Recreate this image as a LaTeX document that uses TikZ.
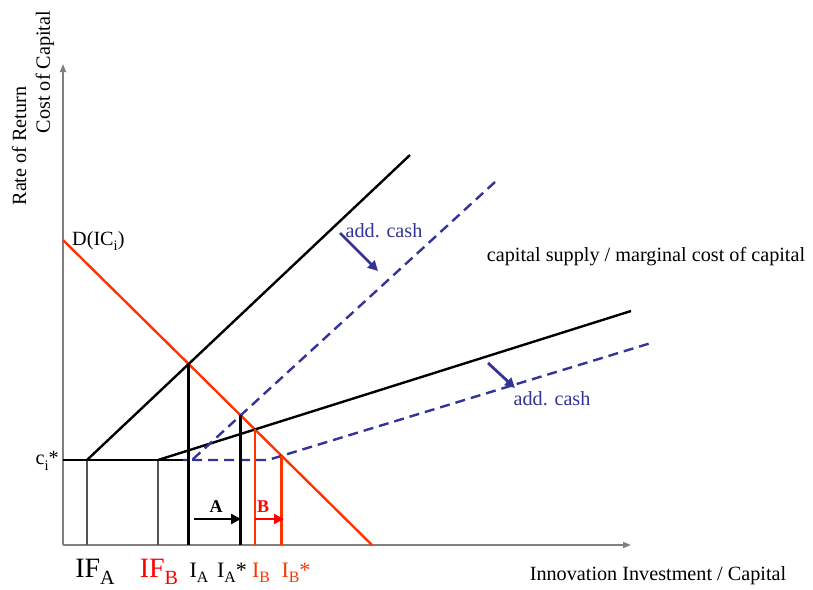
\documentclass[tikz,border=0pt]{standalone}
\usepackage{fontspec}
\setmainfont{Liberation Serif}
\usetikzlibrary{arrows.meta,intersections}
\definecolor{dred}{HTML}{FF3300}
\definecolor{pred}{HTML}{FF0000}
\definecolor{cblue}{HTML}{333399}
\definecolor{axgray}{HTML}{808080}
\definecolor{thingray}{HTML}{555555}
\newcommand\lowsb[1]{\raisebox{-0.26em}{\fontsize{0.72em}{0.85em}\selectfont #1}}
\begin{document}
\begin{tikzpicture}[x=1pt,y=-1pt,
  axisline/.style={draw=axgray,line width=1.6pt,-{Triangle[length=8pt,width=6pt]}},
  supplyline/.style={draw=black,line width=2.4pt},
  demandline/.style={draw=dred,line width=2.4pt},
  cashline/.style={draw=cblue,line width=2.4pt,dash pattern=on 10pt off 6pt},
  thickvert/.style={draw=black,line width=3.4pt},
  redvert/.style={draw=dred,line width=2.6pt},
  thinvert/.style={draw=thingray,line width=1.1pt},
  shiftarrow/.style={line width=2.8pt,-{Triangle[length=10pt,width=10pt]}},
  lbl/.style={font=\fontsize{20.2}{24}\selectfont,inner sep=0pt},
  ilbl/.style={font=\fontsize{22}{26}\selectfont,inner sep=0pt,anchor=base},
  iflbl/.style={font=\fontsize{28}{32}\selectfont,inner sep=0pt,anchor=base},
  bl/.style={font=\fontsize{18}{22}\selectfont\bfseries,inner sep=0pt}
]
\useasboundingbox (0,0) rectangle (813,589);

% axes
\coordinate (O) at (63,545);
\coordinate (Ytop) at (63,64);
\coordinate (Xend) at (631,545);
\draw[axisline] (O) -- (Ytop);
\draw[axisline] (O) -- (Xend);

% key points
\coordinate (C0) at (63,460);
\coordinate (FA) at (87,460);
\coordinate (FB) at (158,460);
\coordinate (Cend) at (183,460);
\coordinate (KA) at (192,460);
\coordinate (KB) at (268,460);

% thin verticals
\draw[thinvert] (FA) -- (FA |- O);
\draw[thinvert] (FB) -- (FB |- O);

% demand
\draw[demandline,name path=dem] (63,240) -- (372,545);

% supply curves
\draw[supplyline] (C0) -- (Cend);
\draw[supplyline,name path=sA] (FA) -- (410,155);
\draw[supplyline,name path=sB] (FB) -- (631,311);

% shifted supply curves (dashed)
\draw[cashline,name path=dA] (495,182) -- (KA) -- (Cend);
\draw[cashline,name path=dB] (KA) -- (KB) -- (651,343);

% intersections
\path[name intersections={of=dem and sA,by=PA}];
\path[name intersections={of=dem and dA,by=PAs}];
\path[name intersections={of=dem and sB,by=PB}];
\path[name intersections={of=dem and dB,by=PBs}];

\draw[thickvert] (PA) -- (PA |- O);
\draw[thickvert] (PAs) -- (PAs |- O);
\draw[redvert] (PB) -- (PB |- O);
\draw[redvert] (PBs) -- (PBs |- O);

% shift arrows A and B
\coordinate (A1) at (194,519);
\coordinate (A2) at (241,519);
\draw[shiftarrow,black] (A1) -- (A2);
\node[bl] (labA) at (216,507) {A};
\coordinate (B1) at (255,519);
\coordinate (B2) at (284,519);
\draw[shiftarrow,pred,line width=2.4pt] (B1) -- (B2);
\node[bl,text=pred] (labB) at (263,507) {B};

% add. cash arrows
\coordinate (c1s) at (340,233);
\coordinate (c1e) at (378,271);
\draw[shiftarrow,cblue] (c1s) -- (c1e);
\node[lbl,text=cblue] (cash1) at (384,231) {add. cash};
\coordinate (c2s) at (488,363);
\coordinate (c2e) at (515,388);
\draw[shiftarrow,cblue] (c2s) -- (c2e);
\node[lbl,text=cblue] (cash2) at (552,399) {add. cash};

% texts
\node[lbl] (supply) at (646,257) {capital supply / marginal cost of capital};
\node[lbl] (xlab) at (658,576) {Innovation Investment / Capital};
\node[lbl,rotate=90] (ylab1) at (19,146) {Rate of Return};
\node[lbl,rotate=90] (ylab2) at (45,72) {Cost of Capital};
\node[lbl,anchor=west] (dlab) at (72,241) {D(IC\lowsb{i})};
\node[lbl,anchor=east] (clab) at (59,461) {c\lowsb{i}*};

% bottom labels
\node[iflbl] (IFA) at (95,577) {IF\lowsb{A}};
\node[iflbl,text=pred] (IFB) at (159,577) {IF\lowsb{B}};
\node[ilbl] (IA) at (199,577) {I\lowsb{A}};
\node[ilbl] (IAs) at (232,577) {I\lowsb{A}*};
\node[ilbl,text=dred] (IB) at (261,577) {I\lowsb{B}};
\node[ilbl,text=dred] (IBs) at (296,577) {I\lowsb{B}*};
\end{tikzpicture}
\end{document}
